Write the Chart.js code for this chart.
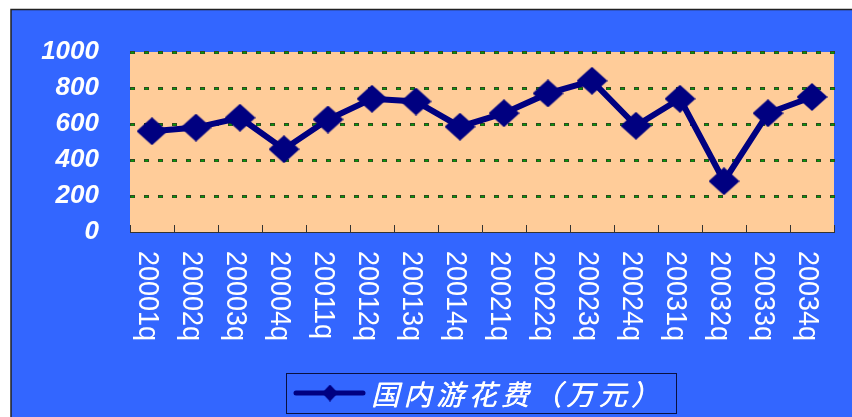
<!DOCTYPE html>
<html>
<head>
<meta charset="utf-8">
<script src="https://cdn.jsdelivr.net/npm/chart.js@4"></script>
<style>
  html, body { margin: 0; padding: 0; background: #fff; }
  canvas { display: block; }
</style>
</head>
<body>
<canvas id="myChart" width="852" height="417"></canvas>
<script>
// quarterly labels and spending (万元)
const quarters = [
  "20001q", "20002q", "20003q", "20004q",
  "20011q", "20012q", "20013q", "20014q",
  "20021q", "20022q", "20023q", "20024q",
  "20031q", "20032q", "20033q", "20034q",
];
const spending = [560, 580, 635, 460, 625, 740, 725, 585, 660, 770, 840, 590, 740, 282, 660, 750];
const yTicks = [0, 200, 400, 600, 800, 1000];
const seriesName = "国内游花费（万元）";

const navy = "#000080";
const blue = "#3366FF";

// diamond marker, a little wider than tall
function makeDiamond(w, h) {
  const c = document.createElement("canvas");
  c.width = w;
  c.height = h;
  const g = c.getContext("2d");
  g.fillStyle = navy;
  g.beginPath();
  g.moveTo(w / 2, 0);
  g.lineTo(w, h / 2);
  g.lineTo(w / 2, h);
  g.lineTo(0, h / 2);
  g.closePath();
  g.fill();
  return c;
}
const marker = makeDiamond(31, 28);
const legendMarker = makeDiamond(16, 17);

// blue frame, peach plot, dotted grid, inward tick marks, rotated labels and legend box
const framePlugin = {
  id: "frame",
  beforeDraw(chart) {
    const { ctx, width, height, chartArea } = chart;
    ctx.save();
    ctx.fillStyle = "#fff";
    ctx.fillRect(0, 0, width, height);
    ctx.fillStyle = blue;
    ctx.fillRect(11, 9, width - 11, height - 9);
    ctx.strokeStyle = "#222";
    ctx.lineWidth = 1.5;
    ctx.beginPath();
    ctx.moveTo(width, 9.5);
    ctx.lineTo(11, 9.5);
    ctx.lineTo(11, height);
    ctx.stroke();
    ctx.fillStyle = "#FFCC99";
    ctx.fillRect(chartArea.left, chartArea.top, chartArea.right - chartArea.left, chartArea.bottom - chartArea.top);
    ctx.restore();
  },
  beforeDatasetsDraw(chart) {
    const { ctx, chartArea } = chart;
    const xs = chart.scales.x;
    const ys = chart.scales.y;
    ctx.save();
    // dotted grid: dark dashes with a bright green core
    yTicks.forEach((v) => {
      if (v === 0) return;
      const y = Math.round(ys.getPixelForValue(v)) + 0.5;
      for (let x = chartArea.left; x < chartArea.right - 2; x += 14) {
        ctx.fillStyle = "#2b4a1e";
        ctx.fillRect(x, y - 1.5, 5, 3);
        ctx.fillStyle = "#0a9a0a";
        ctx.fillRect(x + 1, y - 0.5, 3, 1.5);
      }
    });
    const step = xs.getPixelForValue(1) - xs.getPixelForValue(0);
    ctx.strokeStyle = "#333";
    ctx.lineWidth = 1;
    ctx.beginPath();
    for (let k = 0; k <= quarters.length; k++) {
      const x = Math.round(xs.getPixelForValue(0) - step / 2 + k * step) + 0.5;
      ctx.moveTo(x, chartArea.bottom);
      ctx.lineTo(x, chartArea.bottom - 7);
    }
    ctx.stroke();
    ctx.restore();
  },
  afterDraw(chart) {
    const { ctx } = chart;
    const xs = chart.scales.x;
    ctx.save();
    ctx.fillStyle = "#fff";
    ctx.font = '27px "Liberation Sans", Arial, sans-serif';
    ctx.textAlign = "left";
    ctx.textBaseline = "alphabetic";
    quarters.forEach((q, i) => {
      const cx = xs.getPixelForValue(i);
      ctx.save();
      ctx.translate(cx - 13, 251);
      ctx.rotate(Math.PI / 2);
      ctx.scale(1, 1.1);
      ctx.fillText(q, 0, 0);
      ctx.restore();
    });

    // legend
    const ds = chart.data.datasets[0];
    ctx.strokeStyle = "#0a1040";
    ctx.lineWidth = 1;
    ctx.strokeRect(286.5, 373.5, 390, 40);
    ctx.strokeStyle = ds.borderColor;
    ctx.lineWidth = 5;
    ctx.lineCap = "round";
    ctx.beginPath();
    ctx.moveTo(296, 393);
    ctx.lineTo(363, 393);
    ctx.stroke();
    ctx.drawImage(legendMarker, 330 - 8, 393 - 8.5);
    ctx.fillStyle = "#fff";
    ctx.font = 'italic 28px "Noto Sans CJK SC", sans-serif';
    ctx.letterSpacing = "4.5px";
    ctx.textBaseline = "middle";
    ctx.fillText(ds.label, 371, 394);
    // slight second pass to thicken the strokes a little
    ctx.fillText(ds.label, 371.5, 394);
    ctx.restore();
  },
};

const ctx = document.getElementById("myChart").getContext("2d");
const myChart = new Chart(ctx, {
  type: "line",
  data: {
    labels: quarters,
    datasets: [
      {
        label: seriesName,
        data: spending,
        borderColor: navy,
        borderWidth: 6,
        pointStyle: marker,
        tension: 0,
      },
    ],
  },
  options: {
    responsive: false,
    animation: false,
    layout: { padding: { left: 0, right: 18, top: 52, bottom: 0 } },
    plugins: {
      legend: { display: false },
      tooltip: { enabled: false },
    },
    scales: {
      x: {
        offset: true,
        grid: { display: false },
        border: { display: true, color: "#333", width: 1 },
        ticks: { display: false },
        afterFit(scale) {
          scale.height = 185;
        },
      },
      y: {
        min: 0,
        max: 1000,
        afterBuildTicks(scale) {
          scale.ticks = yTicks.map((v) => ({ value: v }));
        },
        border: { display: false },
        grid: { display: false },
        ticks: {
          padding: 23,
          color: "#fff",
          font: { family: '"Liberation Sans", Arial, sans-serif', size: 26, weight: "bold", style: "italic" },
          callback: (v) => String(v),
        },
        afterFit(scale) {
          scale.width = 130;
        },
      },
    },
  },
  plugins: [framePlugin],
});
</script>
</body>
</html>
